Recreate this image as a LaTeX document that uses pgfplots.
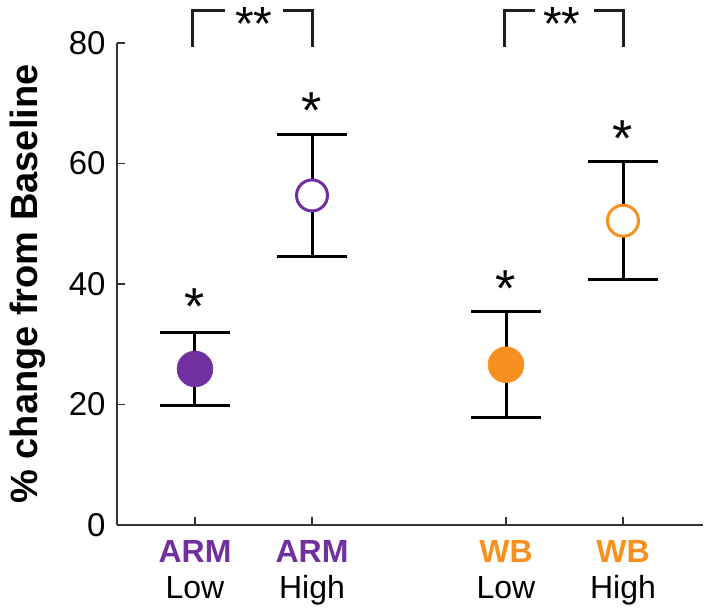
\documentclass[border=0pt]{standalone}
\usepackage{pgfplots}
\pgfplotsset{compat=1.18}
\usepackage{fontspec}
\setmainfont{Liberation Sans}
\definecolor{armc}{HTML}{7030A0}
\definecolor{wbc}{HTML}{F7901E}
\definecolor{axc}{HTML}{333333}
\pgfplotsset{eb/.style={
    /pgfplots/error bars/y dir=both, /pgfplots/error bars/y explicit,
    /pgfplots/error bars/error bar style={line width=3bp, draw=black},
    /pgfplots/error bars/error mark options={rotate=90, mark size=35bp, line width=3bp, draw=black}}}
\begin{document}
\begin{tikzpicture}
\begin{axis}[
  at={(0,0)}, anchor=south west,
  scale only axis, width=586bp, height=482bp,
  xmin=117, xmax=703, ymin=0, ymax=80,
  enlargelimits=false, clip=false,
  axis x line=bottom, axis y line=left,
  axis line style={line width=1.5bp, draw=axc, -},
  tick align=inside, major tick length=8bp,
  tick style={line width=1.5bp, draw=axc},
  ytick={0,20,40,60,80},
  xtick={195,312,506,623},
  xticklabels={{\textcolor{armc}{\bfseries ARM}\\Low},{\textcolor{armc}{\bfseries ARM}\\High},{\textcolor{wbc}{\bfseries WB}\\Low},{\textcolor{wbc}{\bfseries WB}\\High}},
  xticklabel style={align=center, font=\fontsize{32bp}{36bp}\selectfont, yshift=-12bp},
  yticklabel style={font=\fontsize{33bp}{33bp}\selectfont, xshift=-8bp},
  /pgf/number format/assume math mode=true,
  ylabel={\bfseries \% change from Baseline},
  ylabel style={at={(axis description cs:-0.1365,0.5)}, anchor=base, inner sep=0pt, font=\fontsize{38bp}{38bp}\selectfont},
]
\addplot[eb, only marks, mark=*, mark size=18bp, color=armc, mark options={fill=armc, draw=armc}] coordinates {(195,25.9) += (0,6.1) -= (0,6.1)};
\addplot[eb, only marks, mark=*, mark size=15.5bp, color=armc, mark options={fill=white, draw=armc, line width=3bp}] coordinates {(312,54.7) += (0,10.1) -= (0,10.2)};
\addplot[eb, only marks, mark=*, mark size=18bp, color=wbc, mark options={fill=wbc, draw=wbc}] coordinates {(506,26.6) += (0,8.8) -= (0,8.8)};
\addplot[eb, only marks, mark=*, mark size=15.5bp, color=wbc, mark options={fill=white, draw=wbc, line width=3bp}] coordinates {(623,50.5) += (0,9.8) -= (0,9.8)};
% significance
\begin{scope}[every node/.style={inner sep=0pt, anchor=north, font=\fontsize{52bp}{52bp}\selectfont}]
\node at (axis cs:195,39.3) {*};
\node at (axis cs:312,71.7) {*};
\node at (axis cs:506,42.2) {*};
\node at (axis cs:623,67.1) {*};
\node[font=\fontsize{48bp}{48bp}\selectfont] at (axis cs:254,86.0) {**};
\node[font=\fontsize{48bp}{48bp}\selectfont] at (axis cs:562,86.0) {**};
\end{scope}
\draw[line width=3bp, black!88] (axis cs:193,79.4) -- (axis cs:193,85.4) -- (axis cs:225,85.4);
\draw[line width=3bp, black!88] (axis cs:283,85.4) -- (axis cs:312,85.4) -- (axis cs:312,79.4);
\draw[line width=3bp, black!88] (axis cs:504,79.4) -- (axis cs:504,85.4) -- (axis cs:535,85.4);
\draw[line width=3bp, black!88] (axis cs:594,85.4) -- (axis cs:623,85.4) -- (axis cs:623,79.4);
\end{axis}
\pgfresetboundingbox
\path (-117bp,-89bp) rectangle (591bp,525bp);
\end{tikzpicture}
\end{document}
